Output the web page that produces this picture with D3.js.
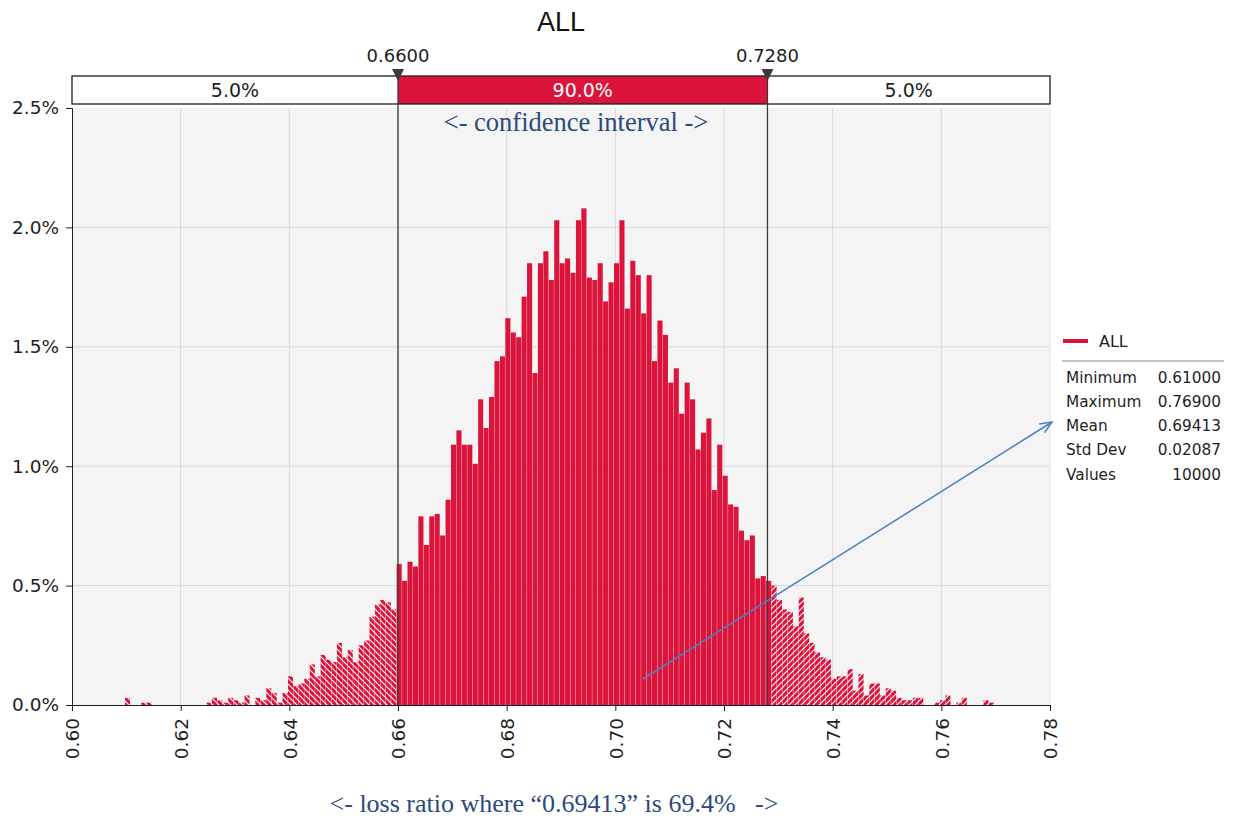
<!DOCTYPE html>
<html><head><meta charset="utf-8">
<script src="https://cdn.jsdelivr.net/npm/d3@7/dist/d3.min.js"></script>
<style>
html,body{margin:0;padding:0;background:#fff;}
svg{display:block;}
.sans{font-family:"DejaVu Sans",sans-serif;}
.serif{font-family:"Liberation Serif","Times New Roman",serif;}
</style></head>
<body>
<script>
// ---------- data ----------
const title = "ALL";
const binStart = 0.610, binWidth = 0.001;
// percent of 10000 values per bin, bins 0.610 ... 0.769
const pct = [
 0.03,0.00,0.00,0.01,0.01,0.00,0.00,0.00,0.00,0.00,   // 0.610-0.619
 0.00,0.00,0.00,0.00,0.00,0.01,0.03,0.02,0.01,0.03,   // 0.620-0.629
 0.02,0.01,0.04,0.00,0.03,0.02,0.07,0.05,0.01,0.05,   // 0.630-0.639
 0.12,0.08,0.09,0.11,0.17,0.12,0.21,0.19,0.18,0.26,   // 0.640-0.649
 0.20,0.23,0.18,0.25,0.27,0.37,0.42,0.44,0.43,0.40,   // 0.650-0.659
 0.59,0.52,0.60,0.58,0.79,0.67,0.79,0.80,0.71,0.86,   // 0.660-0.669
 1.09,1.15,1.09,1.09,1.01,1.28,1.16,1.29,1.44,1.46,   // 0.670-0.679
 1.62,1.56,1.54,1.71,1.85,1.39,1.85,1.90,1.78,2.03,   // 0.680-0.689
 1.85,1.87,1.81,2.03,2.08,1.79,1.78,1.85,1.69,1.77,   // 0.690-0.699
 1.85,2.03,1.66,1.86,1.80,1.64,1.80,1.44,1.61,1.55,   // 0.700-0.709
 1.35,1.41,1.22,1.35,1.28,1.07,1.14,1.20,0.90,1.09,   // 0.710-0.719
 0.96,0.84,0.83,0.73,0.69,0.71,0.53,0.54,0.52,0.50,   // 0.720-0.729
 0.44,0.40,0.39,0.33,0.45,0.30,0.26,0.22,0.20,0.19,   // 0.730-0.739
 0.11,0.12,0.12,0.15,0.06,0.13,0.04,0.09,0.09,0.04,   // 0.740-0.749
 0.07,0.06,0.03,0.02,0.02,0.03,0.03,0.00,0.00,0.01,   // 0.750-0.759
 0.02,0.04,0.00,0.01,0.03,0.00,0.00,0.00,0.02,0.01    // 0.760-0.769
];
const ciLow = 0.660, ciHigh = 0.728;
const ciLabels = ["0.6600", "0.7280"];
const ciParts = ["5.0%", "90.0%", "5.0%"];
const xTicks = [0.60,0.62,0.64,0.66,0.68,0.70,0.72,0.74,0.76,0.78];
const yTicks = [0,0.5,1.0,1.5,2.0,2.5];
const statNames = ["Minimum","Maximum","Mean","Std Dev","Values"];
const statValues = ["0.61000","0.76900","0.69413","0.02087","10000"];
const noteTop = "<- confidence interval ->";
const noteBottom = "<- loss ratio where \u201C0.69413\u201D is 69.4%   ->";

// ---------- layout ----------
const W = 1234, H = 819;
const red = "#DC143C";
const ink = "#1e1e1e";
const svg = d3.select("body").append("svg").attr("width", W).attr("height", H);
const defs = svg.append("defs");
function hatch(id, dir){
  const p = defs.append("pattern").attr("id", id).attr("patternUnits","userSpaceOnUse")
    .attr("width", 6).attr("height", 6);
  p.append("rect").attr("width",6).attr("height",6).attr("fill", red);
  const d = dir > 0 ? "M-1,1 l2,-2 M0,6 l6,-6 M5,7 l2,-2" : "M-1,5 l2,2 M0,0 l6,6 M5,-1 l2,2";
  p.append("path").attr("d", d).attr("stroke","#fff").attr("stroke-width",1.1);
}
hatch("hatchL", -1);
hatch("hatchR", 1);

const x = d3.scaleLinear().domain([0.60, 0.78]).range([72, 1050]);
const y = d3.scaleLinear().domain([0, 2.5]).range([705, 108]);

// plot background
svg.append("rect").attr("x", x(0.60)).attr("y", y(2.5)).attr("width", x(0.78)-x(0.60))
  .attr("height", y(0)-y(2.5)).attr("fill", "#f4f4f4");

// grid
svg.append("g").selectAll("line").data(xTicks.slice(1,-1)).join("line")
  .attr("x1", d=>x(d)).attr("x2", d=>x(d)).attr("y1", y(2.5)).attr("y2", y(0))
  .attr("stroke", "#d9d9d9").attr("stroke-width", 1);
svg.append("g").selectAll("line").data(yTicks.slice(1,-1)).join("line")
  .attr("x1", x(0.60)).attr("x2", x(0.78)).attr("y1", d=>y(d)).attr("y2", d=>y(d))
  .attr("stroke", "#d9d9d9").attr("stroke-width", 1);

// bars
const bins = pct.map((v,i)=>({x0: binStart + i*binWidth, v}));
const off = 0.00025;
svg.append("g").selectAll("rect").data(bins.filter(d=>d.v>0)).join("rect")
  .attr("x", d=>x(d.x0 - off))
  .attr("width", d=>x(d.x0 - off + binWidth) - x(d.x0 - off) - 0.35)
  .attr("y", d=>y(d.v))
  .attr("height", d=>y(0)-y(d.v))
  .attr("fill", d=> d.x0 < ciLow - 1e-9 ? "url(#hatchL)" : (d.x0 > ciHigh + 1e-9 ? "url(#hatchR)" : red));

// axes
const yAxis = d3.axisLeft(y).tickValues(yTicks).tickFormat(d=>d.toFixed(1)+"%").tickSize(6).tickPadding(7);
const gy = svg.append("g").attr("transform", `translate(${x(0.60)},0)`).call(yAxis);
gy.selectAll("text").attr("class","sans").style("font-size","18.5px").attr("fill",ink);
gy.select(".domain").attr("stroke",ink);
gy.selectAll(".tick line").attr("stroke",ink);

const xAxis = d3.axisBottom(x).tickValues(xTicks).tickFormat(d3.format(".2f")).tickSize(6);
const gx = svg.append("g").attr("transform", `translate(0,${y(0)})`).call(xAxis);
gx.select(".domain").attr("stroke",ink);
gx.selectAll(".tick line").attr("stroke",ink);
gx.selectAll("text").attr("class","sans").style("font-size","18.5px").attr("fill",ink)
  .attr("transform","rotate(-90)").attr("text-anchor","end")
  .attr("x",-13).attr("y",0).attr("dy","0.36em");

// right frame line
svg.append("line").attr("x1", x(0.78)).attr("x2", x(0.78)).attr("y1", y(2.5)).attr("y2", y(0))
  .attr("stroke","#e0e0e0");

// confidence bar
const barY = 76, barH = 28;
const segs = [[0.60, ciLow, "#fff", ink], [ciLow, ciHigh, red, "#fff"], [ciHigh, 0.78, "#fff", ink]];
segs.forEach((s,i)=>{
  svg.append("rect").attr("x", x(s[0])).attr("y", barY).attr("width", x(s[1])-x(s[0])).attr("height", barH)
    .attr("fill", s[2]);
  svg.append("text").attr("class","sans").attr("x", (x(s[0])+x(s[1]))/2).attr("y", barY+barH/2+7)
    .attr("text-anchor","middle").style("font-size","19px")
    .attr("fill", s[3]).text(ciParts[i]);
});
svg.append("rect").attr("x", x(0.60)).attr("y", barY).attr("width", x(0.78)-x(0.60)).attr("height", barH)
  .attr("fill","none").attr("stroke",ink).attr("stroke-width",1.3);

// CI lines & markers
[ciLow, ciHigh].forEach((c,i)=>{
  svg.append("line").attr("x1", x(c)).attr("x2", x(c)).attr("y1", barY).attr("y2", y(0))
    .attr("stroke","#3a3a3a").attr("stroke-width",1.3);
  svg.append("path").attr("d", `M${x(c)-6},${barY-7} L${x(c)+6},${barY-7} L${x(c)},${barY+5} Z`)
    .attr("fill","#3a3a3a");
  svg.append("text").attr("class","sans").attr("x", x(c)).attr("y", 62).attr("text-anchor","middle")
    .style("font-size","18px").attr("fill",ink).text(ciLabels[i]);
});

// title
svg.append("text").attr("x", 561).attr("y", 31).attr("text-anchor","middle")
  .style("font-family","'Liberation Sans',Arial,sans-serif").style("font-size","27px")
  .attr("fill","#111").text(title);

// notes
svg.append("text").attr("class","serif").attr("x", 576).attr("y", 131).attr("text-anchor","middle")
  .style("font-size","26.5px").attr("fill","#2c4a7c").text(noteTop);
svg.append("text").attr("class","serif").attr("x", 554).attr("y", 812).attr("text-anchor","middle")
  .style("font-size","26px").attr("fill","#2c4a7c").style("white-space","pre").text(noteBottom);

// legend
svg.append("line").attr("x1",1063).attr("x2",1088).attr("y1",341).attr("y2",341).attr("stroke",red).attr("stroke-width",4);
svg.append("text").attr("class","sans").attr("x",1099).attr("y",347).style("font-size","16px").attr("fill",ink).text(title);
svg.append("line").attr("x1",1062).attr("x2",1224).attr("y1",361).attr("y2",361).attr("stroke","#888").attr("stroke-width",1);
const rows = d3.range(statNames.length);
svg.append("g").selectAll("text").data(rows).join("text").attr("class","sans")
  .attr("x",1066).attr("y",i=>382.5+i*24.3).style("font-size","15.3px").attr("fill",ink).text(i=>statNames[i]);
svg.append("g").selectAll("text").data(rows).join("text").attr("class","sans")
  .attr("x",1221).attr("y",i=>382.5+i*24.3).attr("text-anchor","end").style("font-size","15.3px").attr("fill",ink).text(i=>statValues[i]);

// arrow
const ax0 = 643, ay0 = 679, ax1 = 1052, ay1 = 422;
svg.append("line").attr("x1",ax0).attr("y1",ay0).attr("x2",ax1).attr("y2",ay1).attr("stroke","#4a7fc0").attr("stroke-width",1.5);
const ang = Math.atan2(ay1-ay0, ax1-ax0);
const hl = 13;
svg.append("path").attr("d",
  `M${ax1 - hl*Math.cos(ang-0.4)},${ay1 - hl*Math.sin(ang-0.4)} L${ax1},${ay1} L${ax1 - hl*Math.cos(ang+0.4)},${ay1 - hl*Math.sin(ang+0.4)}`)
  .attr("fill","none").attr("stroke","#4a7fc0").attr("stroke-width",1.5);
</script>
</body></html>
